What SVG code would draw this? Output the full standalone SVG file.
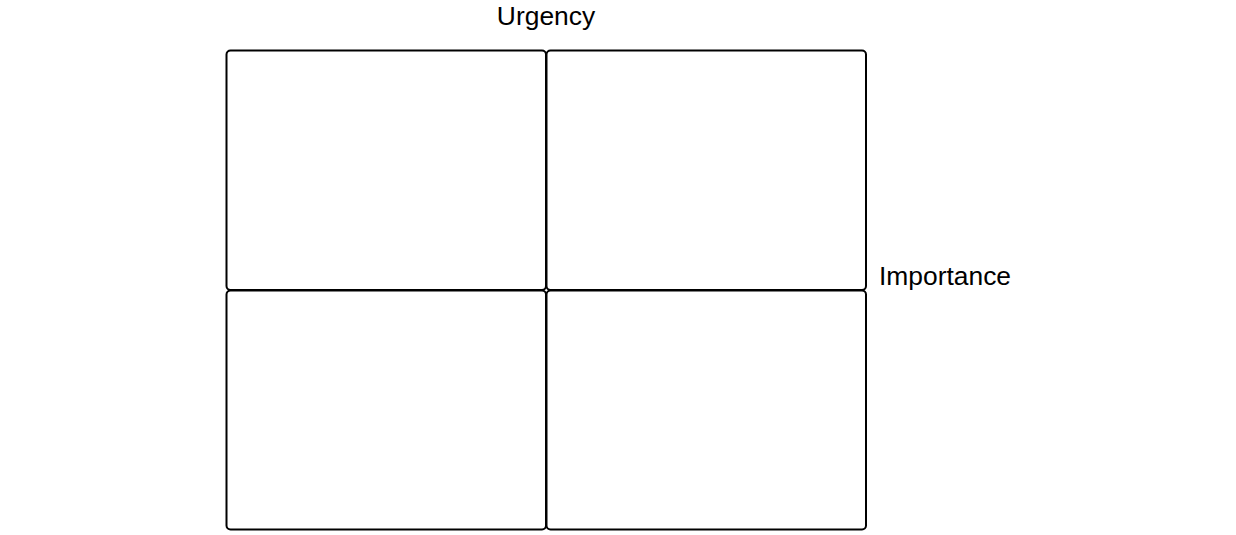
<svg xmlns="http://www.w3.org/2000/svg" width="1236" height="535" viewBox="0 0 1236 535">
<style>
.q{fill:#fff;stroke:#000;stroke-width:2}
.t{font-family:"Liberation Sans",Arial,sans-serif;font-size:26.4px;fill:#000}
</style>
<rect width="1236" height="535" fill="#fff"/>
<g id="q1"><rect class="q" x="226.5" y="50.5" width="319.5" height="239.5" rx="4"/></g>
<g id="q2"><rect class="q" x="546.5" y="50.5" width="319.5" height="239.5" rx="4"/></g>
<g id="q3"><rect class="q" x="226.5" y="290.5" width="319.5" height="239" rx="4"/></g>
<g id="q4"><rect class="q" x="546.5" y="290.5" width="319.5" height="239" rx="4"/></g>
<g id="urgency"><text class="t" x="546" y="25" text-anchor="middle">Urgency</text></g>
<g id="importance"><text class="t" x="879" y="285">Importance</text></g>
</svg>
